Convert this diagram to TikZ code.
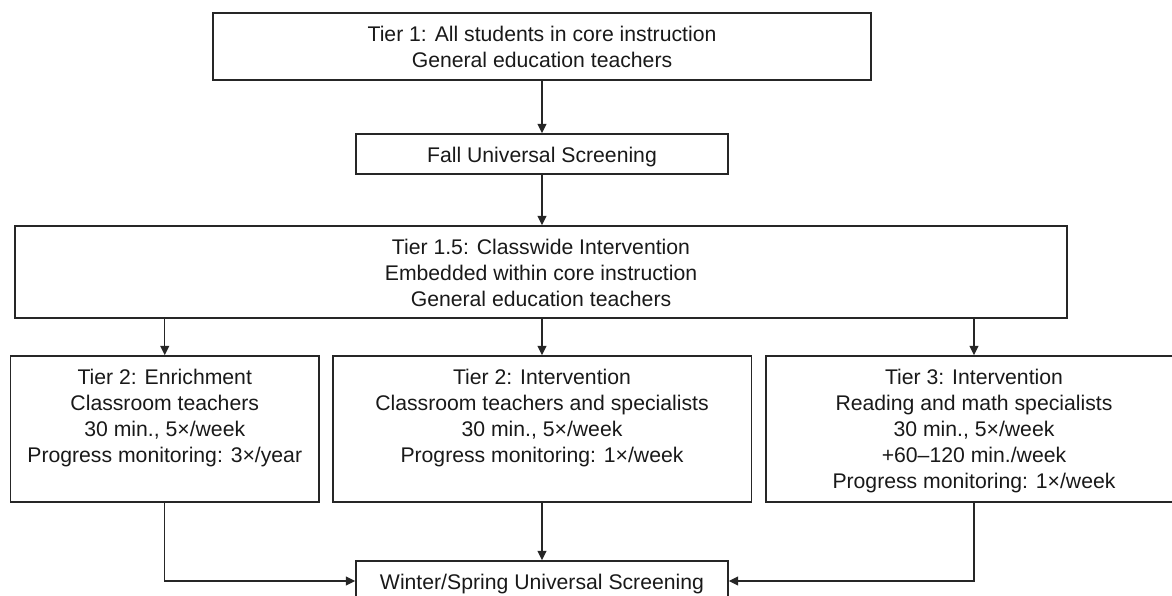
\documentclass[tikz,border=0pt]{standalone}
\usepackage{fontspec}
\setmainfont{Liberation Sans}
\usetikzlibrary{arrows.meta}
\begin{document}
\begin{tikzpicture}[x=0.75pt,y=-0.75pt,
  box/.style={draw=black!85, line width=1.05pt, rectangle, inner sep=0pt},
  txt/.style={align=center, inner sep=0pt, anchor=north,
    font=\fontsize{15.9pt}{19.5pt}\selectfont, text=black!90},
  arr/.style={draw=black!85, line width=1.05pt, -{Triangle[length=7pt,width=6.5pt]}}]
\useasboundingbox (0,0) rectangle (1172,596);
% boxes
\node[box, minimum width=493.5pt, minimum height=50.25pt] (t1) at (542,46.5) {};
\node[box, minimum width=279pt, minimum height=30pt] (fall) at (542,154) {};
\node[box, minimum width=789pt, minimum height=69pt] (t15) at (541,272) {};
\node[box, minimum width=231.4pt, minimum height=109.5pt] (t2e) at (164.75,429) {};
\node[box, minimum width=313.8pt, minimum height=109.5pt] (t2i) at (542,429) {};
\node[box, minimum width=312pt, minimum height=109.5pt] (t3) at (974,429) {};
\node[box, minimum width=279pt, minimum height=30pt] (win) at (542,581) {};
% texts
\node[txt] (t1t) at ([yshift=-10pt]t1.north) {Tier 1: All students in core instruction\\General education teachers};
\node[txt] (fallt) at ([yshift=-10pt]fall.north) {Fall Universal Screening};
\node[txt] (t15t) at ([yshift=-10pt]t15.north) {Tier 1.5: Classwide Intervention\\Embedded within core instruction\\General education teachers};
\node[txt] (t2et) at ([yshift=-10pt]t2e.north) {Tier 2: Enrichment\\Classroom teachers\\30 min., 5×/week\\Progress monitoring: 3×/year};
\node[txt] (t2it) at ([yshift=-10pt]t2i.north) {Tier 2: Intervention\\Classroom teachers and specialists\\30 min., 5×/week\\Progress monitoring: 1×/week};
\node[txt] (t3t) at ([yshift=-10pt]t3.north) {Tier 3: Intervention\\Reading and math specialists\\30 min., 5×/week\\+60–120 min./week\\Progress monitoring: 1×/week};
\node[txt] (wint) at ([yshift=-10pt]win.north) {Winter/Spring Universal Screening};
% connectors
\draw[arr] (t1.south) -- (fall.north);
\draw[arr] (fall.south) -- (fall.south |- t15.north);
\draw[arr] (t2e.north |- t15.south) -- (t2e.north);
\draw[arr] (t2i.north |- t15.south) -- (t2i.north);
\draw[arr] (t3.north |- t15.south) -- (t3.north);
\draw[arr] (t2i.south) -- (win.north);
\draw[arr] (t2e.south) |- (win.west);
\draw[arr] (t3.south) |- (win.east);
\end{tikzpicture}
\end{document}
